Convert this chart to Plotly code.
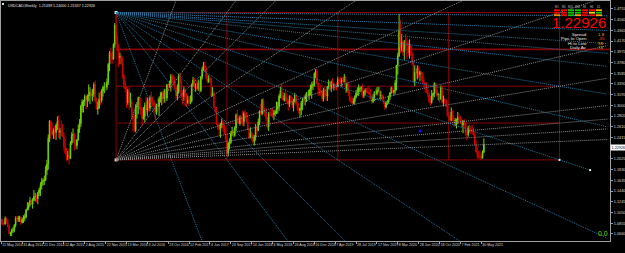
import plotly.graph_objects as go

# ---------------- data ----------------
SYMBOL_TITLE = "USDCAD,Weekly  1.21499 1.24000 1.21337 1.22926"
FIRST_BAR_OPEN = 1090  # price * 1000
# weekly bars from 11 May 2014 (bar 0) to 13 Jun 2021 (bar 370), prices * 1000
CLOSE = [
    1088,1085,1084,1094,1086,1080,1067,1068,1073,1073,1082,1094,1093,1095,1096,1087,1092,1095,1097,1110,1114,1119,1127,1120,1127,1134,1134,1130,1141,1146,1154,1161,1163,1164,
    1182,1193,1240,1271,1253,1247,1254,1251,1264,1271,1251,1253,1251,1244,1225,1213,1207,1208,1203,1231,1245,1247,1232,1227,1237,1257,1267,1299,1306,1307,1316,1310,1317,1318,1324,1318,1320,1338,1309,1293,1295,1311,1309,1326,1333,1334,1333,1343,1375,1395,1390,1384,
    1411,1446,1419,1401,1387,1389,1378,1352,1338,1330,1305,1325,1305,1306,1280,1275,1254,1297,1298,1314,1297,1292,1276,1280,1300,1291,1308,1295,1314,1306,1306,1302,1287,1300,1298,1312,1317,1322,1312,1327,1313,1338,1337,1340,1353,1346,1344,1332,1317,1324,1355,1343,
    1317,1316,1329,1315,1304,1310,1307,1308,1337,1346,1334,1335,1330,1341,1327,1352,1365,1373,1367,1350,1343,1349,1348,1317,1323,1296,1290,1266,1263,1256,1266,1270,1259,1248,1239,1213,1231,1232,1248,1254,1245,1259,1283,1272,1267,1278,1270,1270,1285,1282,1271,1257,1241,
    1250,1246,1234,1243,1258,1254,1270,1289,1285,1310,1290,1288,1277,1261,1286,1283,1283,1283,1286,1289,1294,1298,1317,1327,1315,1310,1318,1313,1307,1302,1317,1308,1300,1306,1319,1303,1293,1291,1294,1305,1312,1310,1316,1323,1317,1328,1331,1336,1338,1358,1362,1340,
    1328,1327,1320,1312,1329,1321,1317,1334,1342,1333,1343,1336,1337,1336,1334,1347,1343,1343,1346,1343,1352,1327,1338,1324,1309,1309,1304,1307,1315,1322,1325,1330,1331,1332,1317,1325,1328,1324,1324,1320,1312,1307,1313,1323,1321,1327,1328,1317,1318,1314,1305,1297,
    1305,1306,1315,1323,1332,1324,1327,1341,1373,1390,1436,1405,1415,1397,1415,1413,1409,1395,1408,1394,1376,1343,1360,1358,1367,1356,1361,1359,1341,1341,1339,1327,1320,1306,1305,1318,1322,1340,1328,1319,1320,1311,1332,1306,1311,1309,1299,1281,1276,1273,1288,1273,
    1272,1273,1273,1279,1277,1270,1264,1272,1268,1247,1247,1259,1256,1253,1253,1248,1228,1215,1207,1207,1207,1204,1215,1229,
]
HIGH = [
    1094,1093,1090,1098,1096,1093,1083,1070,1076,1079,1084,1098,1099,1099,1099,1098,1096,1100,1103,1111,1124,1123,1133,1129,1131,1146,1141,1138,1143,1150,1160,1168,1167,1172,
    1190,1201,1247,1273,1273,1268,1258,1263,1267,1280,1282,1259,1272,1266,1251,1239,1222,1217,1220,1235,1251,1258,1250,1238,1239,1265,1275,1301,1311,1310,1320,1318,1320,1338,1333,1329,1330,1342,1345,1314,1307,1323,1326,1330,1336,1342,1340,1349,1377,1399,1405,1398,
    1413,1450,1469,1428,1411,1396,1392,1389,1357,1344,1334,1330,1334,1323,1311,1294,1283,1302,1306,1316,1315,1314,1295,1297,1305,1316,1314,1311,1318,1325,1316,1310,1304,1303,1314,1316,1324,1325,1326,1330,1330,1338,1340,1345,1357,1358,1355,1352,1334,1338,1358,1360,
    1348,1327,1334,1331,1322,1318,1317,1318,1340,1352,1350,1340,1345,1347,1345,1353,1370,1379,1379,1372,1359,1355,1353,1350,1333,1326,1298,1297,1266,1265,1268,1276,1274,1265,1260,1246,1233,1240,1253,1261,1255,1262,1285,1292,1280,1282,1281,1290,1289,1292,1288,1282,1257,
    1260,1252,1249,1246,1266,1263,1276,1291,1303,1312,1313,1296,1295,1279,1288,1293,1295,1295,1292,1291,1307,1306,1321,1334,1339,1325,1323,1330,1323,1310,1318,1319,1315,1312,1323,1320,1307,1304,1296,1308,1313,1318,1320,1324,1327,1329,1338,1342,1344,1360,1366,1366,
    1342,1331,1338,1325,1332,1334,1326,1335,1347,1344,1345,1349,1340,1339,1342,1352,1350,1352,1350,1352,1357,1353,1341,1342,1328,1316,1316,1313,1318,1328,1333,1338,1334,1335,1338,1327,1331,1332,1333,1336,1330,1317,1320,1326,1330,1333,1334,1334,1326,1321,1317,1306,
    1308,1310,1318,1324,1334,1334,1328,1346,1373,1396,1467,1455,1430,1418,1419,1430,1423,1418,1420,1412,1398,1380,1373,1368,1373,1372,1363,1361,1360,1350,1343,1342,1328,1323,1317,1328,1323,1342,1340,1335,1323,1321,1336,1336,1318,1312,1312,1300,1288,1283,1296,1291,
    1280,1277,1276,1288,1286,1281,1276,1273,1275,1269,1252,1263,1265,1263,1265,1259,1251,1236,1222,1217,1218,1212,1218,1240,
]
LOW = [
    1083,1082,1081,1083,1085,1078,1066,1062,1062,1068,1069,1078,1088,1088,1088,1082,1085,1086,1089,1094,1109,1109,1116,1119,1112,1126,1125,1123,1120,1135,1135,1147,1154,1155,
    1162,1173,1183,1233,1238,1245,1239,1238,1237,1255,1241,1238,1244,1242,1218,1211,1199,1200,1192,1203,1228,1232,1218,1221,1220,1236,1250,1261,1287,1287,1299,1293,1297,1307,1302,1310,1307,1315,1305,1293,1283,1294,1300,1305,1316,1322,1325,1328,1337,1362,1377,1375,
    1383,1405,1412,1399,1370,1375,1374,1348,1331,1324,1296,1301,1292,1296,1274,1253,1251,1251,1276,1284,1292,1282,1263,1274,1270,1285,1280,1289,1289,1300,1298,1290,1272,1283,1289,1280,1305,1300,1303,1305,1305,1308,1326,1332,1325,1340,1336,1330,1311,1309,1321,1341,
    1313,1301,1308,1298,1297,1303,1299,1302,1305,1334,1330,1325,1327,1326,1321,1324,1347,1362,1362,1346,1340,1341,1340,1315,1317,1296,1286,1264,1255,1244,1241,1259,1253,1248,1236,1206,1207,1220,1229,1244,1241,1243,1253,1268,1266,1263,1266,1263,1262,1278,1269,1255,1239,
    1240,1236,1230,1227,1236,1244,1254,1264,1282,1282,1285,1280,1271,1256,1253,1279,1281,1277,1273,1280,1284,1285,1290,1313,1311,1308,1307,1307,1303,1290,1297,1304,1295,1289,1306,1300,1290,1285,1278,1282,1291,1300,1300,1306,1313,1310,1318,1312,1328,1334,1350,1338,
    1317,1318,1317,1307,1307,1315,1308,1308,1330,1327,1324,1332,1327,1328,1327,1333,1337,1339,1334,1340,1342,1322,1323,1317,1307,1304,1302,1302,1302,1312,1318,1317,1324,1324,1314,1313,1319,1322,1321,1318,1311,1303,1304,1308,1319,1318,1323,1312,1310,1309,1302,1292,
    1294,1301,1303,1310,1321,1322,1318,1321,1327,1356,1388,1395,1398,1390,1383,1404,1385,1389,1385,1390,1373,1340,1335,1349,1347,1350,1344,1345,1339,1331,1323,1323,1315,1304,1300,1303,1310,1315,1321,1316,1309,1305,1311,1303,1298,1303,1297,1280,1272,1270,1271,1271,
    1262,1262,1258,1266,1269,1266,1260,1249,1258,1245,1236,1243,1250,1248,1246,1245,1228,1213,1202,1203,1201,1201,1203,1213,
]

X_TICK_BARS = list(range(0, 369, 16))
X_LABELS = ["11 May 2014", "31 Aug 2014", "21 Dec 2014", "12 Apr 2015", "2 Aug 2015", "22 Nov 2015",
            "13 Mar 2016", "3 Jul 2016", "23 Oct 2016", "12 Feb 2017", "4 Jun 2017", "24 Sep 2017",
            "14 Jan 2018", "6 May 2018", "26 Aug 2018", "16 Dec 2018", "7 Apr 2019", "28 Jul 2019",
            "17 Nov 2019", "8 Mar 2020", "28 Jun 2020", "18 Oct 2020", "7 Feb 2021", "30 May 2021"]
# price-scale ticks (the one hidden under the current-price box is left out)
Y_TICKS = [1.4755, 1.4560, 1.4365, 1.4170, 1.3975, 1.3780, 1.3585, 1.3390, 1.3195, 1.3000, 1.2805,
           1.2610, 1.2415, 1.2025, 1.1830, 1.1635, 1.1440, 1.1245, 1.1050, 1.0855, 1.0660]

CURRENT_PRICE = 1.22926
# Gann box: from the Jan-2016 high to the May-2021 low, 4 x 4 cells
BOX_START_BAR, BOX_END_BAR = 88, 428
BOX_HIGH, BOX_LOW = 1.4690, 1.2007
BOX_DIVISIONS = 4
# fan ratios relative to the box diagonal
BLUE_FAN = [0.02, 0.11, 0.19, 0.25, 0.33, 0.5, 0.7, 1.0, 1.382, 2.0, 3.0, 4.0, 8.0]
GRAY_FAN = [0.125, 0.19, 0.25, 0.333, 0.5, 0.7, 1.0, 1.382, 2.0, 3.0, 4.0, 8.0]
MARKER_BAR, MARKER_PRICE = 321, 1.2533

INFO_LABELS = ["Spread", "Pips to Open", "Hi to Low", "Daily Av"]
INFO_VALUES = ["1.8", "-35", "58", "74"]
INFO_COLORS = ["#ffa500", "#ff4500", "#ffa500", "#9acd32"]
TF_LABELS = ["M1", "M5", "M15", "M30", "H1", "H4", "D1"]
TF_COLORS = [
    ["#ff0000", "#ff0000", "#00c800", "#00c800", "#ff0000", "#ff0000", "#ffa500"],
    ["#ff0000", "#ff0000", "#00c800", "#00c800", "#ff0000", "#ffd700", "#00c800"],
    ["#ff8c00", "#ff0000", "#00c800", "#ffa500", "#ff0000", "#ff0000", "#ffa500"],
]

# ---------------- geometry ----------------
W, H = 625, 253
ML, MR, MT, MB = 1, 15, 1, 12
PW, PH = W - ML - MR, H - MT - MB
X_RANGE = [-0.23, 466.7]
Y_RANGE = [1.05313, 1.48993]


def px(x):
    return (x - ML) / PW


def py(y):
    return 1 - (y - MT) / PH


n = len(CLOSE)
opens = [FIRST_BAR_OPEN] + CLOSE[:-1]
bars = list(range(n))
o = [v / 1000 for v in opens]
c = [v / 1000 for v in CLOSE]
hi = [max(a, b, h) / 1000 for a, b, h in zip(opens, CLOSE, HIGH)]
lo = [min(a, b, l) / 1000 for a, b, l in zip(opens, CLOSE, LOW)]

fig = go.Figure()
fig.add_trace(go.Candlestick(
    x=bars, open=o, high=hi, low=lo, close=c,
    increasing=dict(line=dict(color="#70d000", width=1), fillcolor="#a0ff10"),
    decreasing=dict(line=dict(color="#d00000", width=1), fillcolor="#ff1010"),
    whiskerwidth=0, hoverinfo="skip", showlegend=False,
))

shapes = []
DOT = "1px,1px"
BOX_COLOR = "#8b0000"
for k in range(BOX_DIVISIONS + 1):
    p = BOX_HIGH - (BOX_HIGH - BOX_LOW) * k / BOX_DIVISIONS
    x1 = X_RANGE[1] if k == 1 else BOX_END_BAR
    shapes.append(dict(type="line", xref="x", yref="y", x0=BOX_START_BAR, x1=x1, y0=p, y1=p,
                       line=dict(color=BOX_COLOR, width=1.6 if k == 1 else 1), layer="below"))
for k in range(BOX_DIVISIONS + 1):
    b = BOX_START_BAR + (BOX_END_BAR - BOX_START_BAR) * k / BOX_DIVISIONS
    shapes.append(dict(type="line", xref="x", yref="y", x0=b, x1=b, y0=BOX_LOW, y1=BOX_HIGH,
                       line=dict(color=BOX_COLOR, width=1), layer="below"))


def fan_end(x0, p0, dx, dp, xmax):
    t = (xmax - x0) / dx
    if dp < 0:
        t = min(t, (p0 - Y_RANGE[0]) / -dp)
    elif dp > 0:
        t = min(t, (Y_RANGE[1] - p0) / dp)
    return x0 + dx * t, p0 + dp * t


span_x = BOX_END_BAR - BOX_START_BAR
span_p = BOX_HIGH - BOX_LOW
for r in BLUE_FAN:
    xmax = 451.4 if r == 1.0 else X_RANGE[1] - 2
    x1, p1 = fan_end(BOX_START_BAR, BOX_HIGH, span_x, -r * span_p, xmax)
    shapes.append(dict(type="line", xref="x", yref="y", x0=BOX_START_BAR, y0=BOX_HIGH, x1=x1, y1=p1,
                       line=dict(color="#237aa3", width=1, dash=DOT), layer="above"))
for r in GRAY_FAN:
    x1, p1 = fan_end(BOX_START_BAR, BOX_LOW, span_x, r * span_p, X_RANGE[1] - 2)
    shapes.append(dict(type="line", xref="x", yref="y", x0=BOX_START_BAR, y0=BOX_LOW, x1=x1, y1=p1,
                       line=dict(color="#8c8c8c", width=1, dash=DOT), layer="above"))

col_x = [554, 561, 568, 575, 582, 589, 596]
row_y = [9.3, 11.8, 14.3]
for ri, row in enumerate(TF_COLORS):
    for ci, col in enumerate(row):
        shapes.append(dict(type="rect", xref="paper", yref="paper",
                           x0=px(col_x[ci]), x1=px(col_x[ci] + 6), y0=py(row_y[ri] + 1.8), y1=py(row_y[ri]),
                           line=dict(width=0), fillcolor=col, layer="above"))
shapes.append(dict(type="rect", xref="paper", yref="paper", x0=px(2), x1=px(4), y0=py(5), y1=py(3),
                   line=dict(width=0), fillcolor="#e0e0e0"))

fig.add_trace(go.Scatter(x=[BOX_START_BAR], y=[BOX_HIGH], mode="markers",
                         marker=dict(symbol="square", size=3, color="#c8f0ff"), hoverinfo="skip", showlegend=False))
fig.add_trace(go.Scatter(x=[BOX_START_BAR], y=[BOX_LOW], mode="markers",
                         marker=dict(symbol="square", size=3, color="#ffc8c8"), hoverinfo="skip", showlegend=False))
fig.add_trace(go.Scatter(x=[BOX_END_BAR, 451.4], y=[BOX_LOW, BOX_HIGH - span_p * (451.4 - BOX_START_BAR) / span_x],
                         mode="markers", marker=dict(symbol="square", size=2, color="#ffffff"),
                         hoverinfo="skip", showlegend=False))
fig.add_trace(go.Scatter(x=[MARKER_BAR], y=[MARKER_PRICE], mode="markers",
                         marker=dict(symbol="square", size=2.5, color="#1010ff"), hoverinfo="skip", showlegend=False))

ann = []
ann.append(dict(text=SYMBOL_TITLE, xref="paper", yref="paper", x=px(5.5), y=py(2.2), xanchor="left", yanchor="top",
                showarrow=False, font=dict(size=3.7, color="#e0e0e0", family="Liberation Sans")))
ann.append(dict(text=f"{CURRENT_PRICE:.5f}", xref="paper", yref="paper", x=px(608), y=py(22),
                xanchor="right", yanchor="middle", showarrow=False,
                font=dict(size=15, color="#ff0000", family="Liberation Sans")))
for i, (lab, val, col) in enumerate(zip(INFO_LABELS, INFO_VALUES, INFO_COLORS)):
    yy = 34.2 + i * 4.5
    ann.append(dict(text=lab, xref="paper", yref="paper", x=px(588.5), y=py(yy), xanchor="right", yanchor="middle",
                    showarrow=False, font=dict(size=4.4, color="#e8e8e8", family="Liberation Sans")))
    ann.append(dict(text=val, xref="paper", yref="paper", x=px(595.5), y=py(yy), xanchor="left", yanchor="middle",
                    showarrow=False, font=dict(size=4.4, color=col, family="Liberation Sans")))
for ci, lab in enumerate(TF_LABELS):
    ann.append(dict(text=lab, xref="paper", yref="paper", x=px(col_x[ci] + 3), y=py(6.8), xanchor="center",
                    yanchor="middle", showarrow=False, font=dict(size=2.6, color="#c0c0c0", family="Liberation Sans")))
ann.append(dict(text="0.0", xref="paper", yref="paper", x=px(596), y=py(233.5), xanchor="left", yanchor="middle",
                showarrow=False, font=dict(size=7, color="#66dd00", family="Liberation Sans")))
ann.append(dict(text=f"{CURRENT_PRICE:.5f}", xref="paper", yref="y", x=1.0, y=CURRENT_PRICE, yshift=-3,
                xanchor="left", yanchor="middle", showarrow=False, bgcolor="#ffffff", borderpad=0.5,
                font=dict(size=3.8, color="#000000", family="Liberation Sans")))

fig.update_layout(
    width=W, height=H, margin=dict(l=ML, r=MR, t=MT, b=MB, autoexpand=False),
    paper_bgcolor="#000000", plot_bgcolor="#000000",
    shapes=shapes, annotations=ann, showlegend=False,
    xaxis=dict(range=X_RANGE, rangeslider=dict(visible=False), showgrid=False, zeroline=False,
               tickmode="array", tickvals=X_TICK_BARS, ticktext=X_LABELS, ticks="outside", ticklen=2,
               tickcolor="#a0a0a0", ticklabelposition="outside right", tickangle=0,
               tickfont=dict(size=3.6, color="#d8d8d8", family="Liberation Sans"),
               showline=True, linecolor="#a0a0a0", linewidth=1, mirror=True, automargin=False),
    yaxis=dict(range=Y_RANGE, side="right", showgrid=False, zeroline=False,
               tickmode="array", tickvals=Y_TICKS, ticktext=[f"{v:.4f}" for v in Y_TICKS],
               ticks="outside", ticklen=2, tickcolor="#a0a0a0",
               tickfont=dict(size=3.8, color="#d8d8d8", family="Liberation Sans"),
               showline=True, linecolor="#a0a0a0", linewidth=1, mirror=True, automargin=False),
)
fig.write_html("out.html")
